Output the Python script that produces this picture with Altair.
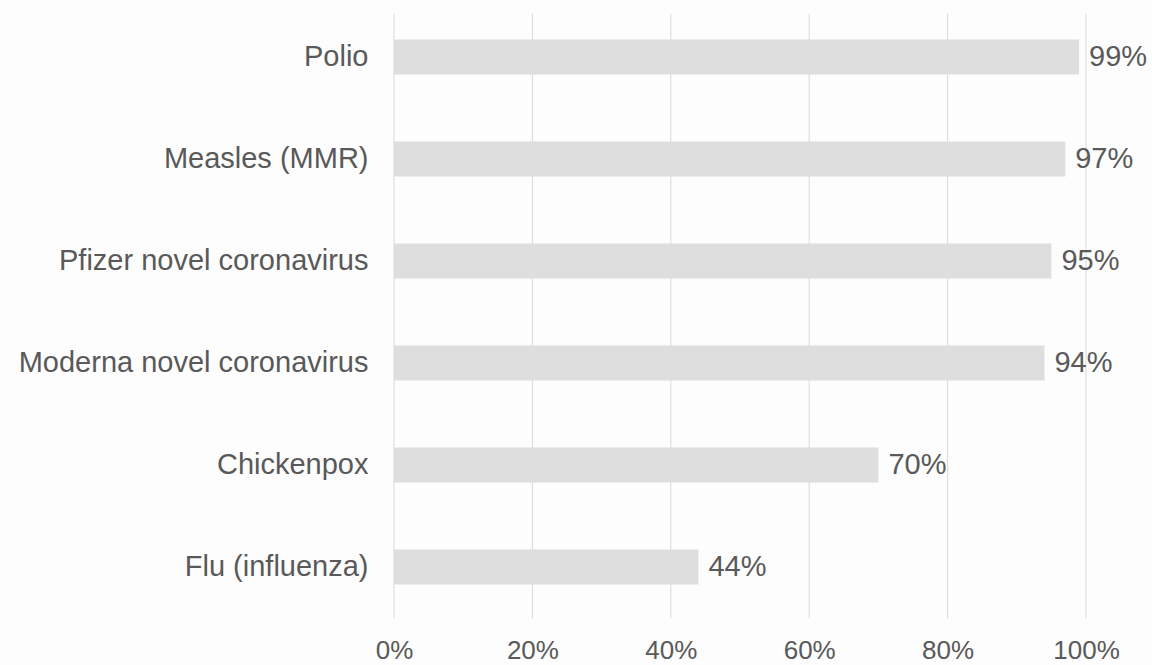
import altair as alt
import pandas as pd

categories = ["Polio", "Measles (MMR)", "Pfizer novel coronavirus",
              "Moderna novel coronavirus", "Chickenpox", "Flu (influenza)"]
values = [99, 97, 95, 94, 70, 44]
grid_ticks = [0, 20, 40, 60, 80, 100]

df = pd.DataFrame({"vaccine": categories, "eff": values,
                   "label": [f"{v}%" for v in values]})
grid_df = pd.DataFrame({"g": grid_ticks})

FONT = "Liberation Sans"
TXT = "#595959"
W, H = 692, 612

xscale = alt.Scale(domain=[0, 100], nice=False, zero=True)
yscale = alt.Scale(domain=categories, paddingInner=0.657, paddingOuter=0.3285)

grid = alt.Chart(grid_df).mark_rule(color="#d9d9d9", strokeWidth=1).encode(
    x=alt.X("g:Q", scale=xscale, axis=alt.Axis(
        values=grid_ticks, labelExpr="datum.value + '%'", title=None,
        grid=False, domain=False, ticks=False, labelFont=FONT, labelFlush=False,
        labelFontSize=26, labelColor=TXT, labelPadding=19)),
    y=alt.value(8),
    y2=alt.value(H),
)

bars = alt.Chart(df).mark_bar(color="#dedede").encode(
    x=alt.X("eff:Q", scale=xscale),
    y=alt.Y("vaccine:N", scale=yscale, sort=categories, axis=alt.Axis(
        title=None, domain=False, ticks=False, grid=False, labelFont=FONT,
        labelFontSize=29, labelColor=TXT, labelPadding=26, labelLimit=500)),
)

text = alt.Chart(df).mark_text(align="left", baseline="middle", dx=10,
                               font=FONT, fontSize=29, color=TXT).encode(
    x=alt.X("eff:Q", scale=xscale),
    y=alt.Y("vaccine:N", scale=yscale, sort=categories),
    text="label:N",
)

chart = alt.layer(grid, bars, text).properties(
    width=W, height=H,
    autosize=alt.AutoSizeParams(type="none"),
    padding={"left": 394, "top": 6, "right": 1152 - 394 - W, "bottom": 665 - 6 - H},
    background="#fdfdfd",
).configure_view(stroke=None)

chart.save("out.html", embed_options={"renderer": "svg", "actions": False})
